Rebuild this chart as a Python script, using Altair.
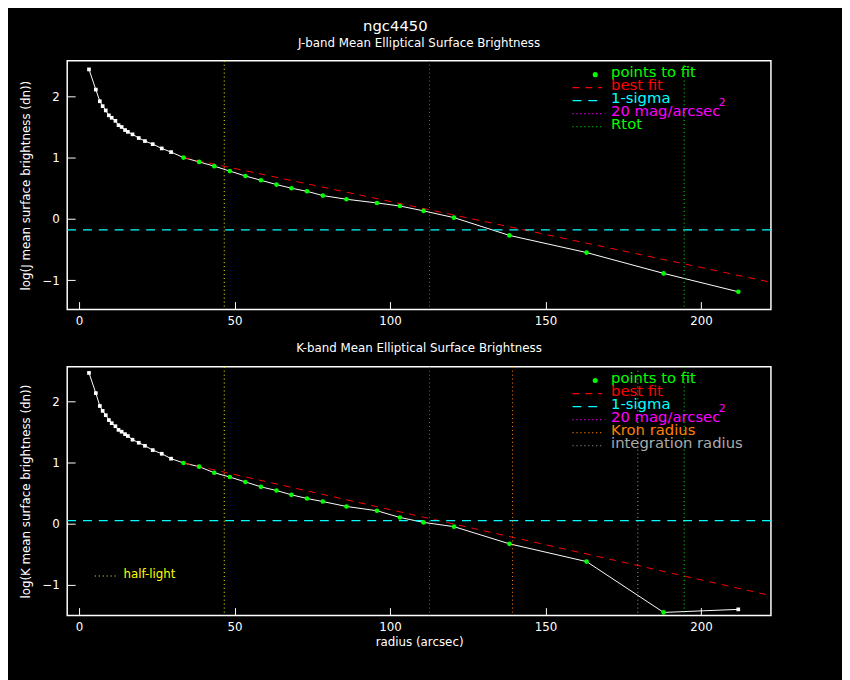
import altair as alt
import pandas as pd

FONT = "DejaVu Sans"

# radius (arcsec), shared by both bands
RADIUS = [3.2, 5.4, 6.7, 7.6, 8.6, 9.6, 10.5, 11.7, 12.7, 13.7, 14.8, 15.7, 17.2, 19.2,
          21.2, 23.7, 26.6, 29.6, 33.6, 38.6, 43.5, 48.5, 53.5, 58.5, 63.5, 68.3, 73.3,
          78.4, 86.0, 95.8, 103.2, 110.8, 120.6, 138.4, 163.2, 188.0, 212.0]

J_LOG = [2.44, 2.11, 1.92, 1.84, 1.77, 1.69, 1.65, 1.60, 1.53, 1.50, 1.45, 1.42, 1.38, 1.32,
         1.27, 1.22, 1.15, 1.09, 1.00, 0.93, 0.86, 0.78, 0.70, 0.63, 0.56, 0.50, 0.45,
         0.38, 0.32, 0.26, 0.21, 0.13, 0.02, -0.27, -0.55, -0.89, -1.19]
K_LOG = [2.46, 2.13, 1.92, 1.84, 1.77, 1.69, 1.64, 1.59, 1.53, 1.50, 1.46, 1.43, 1.37, 1.32,
         1.27, 1.20, 1.14, 1.06, 0.99, 0.93, 0.83, 0.76, 0.68, 0.60, 0.54, 0.47, 0.41,
         0.36, 0.28, 0.21, 0.10, 0.02, -0.05, -0.33, -0.62, -1.45, -1.40]

# which points were used in the fit
J_FIT = [False] * 18 + [True] * 19
K_FIT = [False] * 18 + [True] * 18 + [False]

# best-fit lines (endpoints)
J_FIT_R = [33.6, 222.0]
J_FIT_Y = [1.00, -1.03]
K_FIT_R = [33.6, 222.0]
K_FIT_Y = [0.99, -1.17]

J_SIGMA = -0.18
K_SIGMA = 0.05

J_VLINES = [46.7, 112.7, 194.6]
J_VCOLORS = ["#ffff00", "#ff00ff", "#00ff00"]
K_VLINES = [46.7, 112.7, 139.4, 179.7, 194.6]
K_VCOLORS = ["#ffff00", "#ff00ff", "#ff8000", "#aaaaaa", "#00ff00"]

J_LEGEND = ["best fit", "1-sigma", "20 mag/arcsec", "Rtot"]
J_LEGEND_COLORS = ["#ff0000", "#00ffff", "#ff00ff", "#00ff00"]
K_LEGEND = ["best fit", "1-sigma", "20 mag/arcsec", "Kron radius", "integration radius"]
K_LEGEND_COLORS = ["#ff0000", "#00ffff", "#ff00ff", "#ff8000", "#aaaaaa"]

X_TICKS = [0, 50, 100, 150, 200]
Y_TICKS = [-1, 0, 1, 2]

X_DOMAIN = [-3.8, 222.5]
W, H = 713, 252


def panel(r, y, fit, fit_r, fit_y, sigma, vlines, vcolors, leg, leg_colors,
          ydomain, title, ytitle, xtitle, halflight):
    xs = alt.Scale(domain=X_DOMAIN, nice=False, zero=False)
    ys = alt.Scale(domain=ydomain, nice=False, zero=False)
    df = pd.DataFrame({"r": r, "y": y, "fit": fit})

    # axes pulled inside the frame so their ticks point inwards
    base_x = alt.X("r:Q", scale=xs,
                   axis=alt.Axis(values=X_TICKS, title=xtitle, ticks=True, tickSize=8,
                                 tickColor="white", offset=-8, domain=False,
                                 labelPadding=6, format="d"))
    base_y = alt.Y("y:Q", scale=ys,
                   axis=alt.Axis(values=Y_TICKS, title=ytitle, ticks=True, tickSize=8,
                                 tickColor="white", offset=-8, domain=False,
                                 labelPadding=8, titlePadding=10, format="d"))

    line = alt.Chart(df).mark_line(color="white", strokeWidth=1).encode(x=base_x, y=base_y)
    white_pts = alt.Chart(df[~df["fit"]]).mark_square(color="white", size=14, opacity=1).encode(
        x="r:Q", y="y:Q")
    green_pts = alt.Chart(df[df["fit"]]).mark_circle(color="#00ff00", size=22, opacity=1).encode(
        x="r:Q", y="y:Q")

    fit_df = pd.DataFrame({"r": fit_r, "y": fit_y})
    fit_line = alt.Chart(fit_df).mark_line(color="#ff0000", strokeDash=[7, 6], strokeWidth=1).encode(
        x="r:Q", y="y:Q")

    sig = alt.Chart(pd.DataFrame({"y": [sigma]})).mark_rule(
        color="#00ffff", strokeDash=[9, 7], strokeWidth=1.2).encode(y="y:Q")

    vdf = pd.DataFrame({"r": vlines, "c": vcolors})
    vl = alt.Chart(vdf).mark_rule(strokeDash=[1, 3], strokeWidth=1).encode(
        x="r:Q", color=alt.Color("c:N", scale=None))

    # legend
    lx0, lx1, ltx = 512, 542, 551
    ly0, dy = 11, 13.2
    one = pd.DataFrame({"t": ["points to fit"]})
    legend_layers = [
        alt.Chart(one).mark_circle(color="#00ff00", size=26, opacity=1).encode(
            x=alt.value(535), y=alt.value(ly0 + 3)),
        alt.Chart(one).mark_text(color="#00ff00", align="left", baseline="middle",
                                 font=FONT, fontSize=15).encode(
            x=alt.value(ltx), y=alt.value(ly0), text="t:N"),
    ]
    dashes = [[7, 6], [9, 7], [1, 3], [1, 3], [1, 3]]
    for i, (t, c) in enumerate(zip(leg, leg_colors)):
        yy = ly0 + dy * (i + 1)
        d = pd.DataFrame({"t": [t]})
        legend_layers.append(
            alt.Chart(d).mark_rule(color=c, strokeDash=dashes[i], strokeWidth=1.2).encode(
                x=alt.value(lx0), x2=alt.value(lx1), y=alt.value(yy + 3), y2=alt.value(yy + 3)))
        legend_layers.append(
            alt.Chart(d).mark_text(color=c, align="left", baseline="middle",
                                   font=FONT, fontSize=15).encode(
                x=alt.value(ltx), y=alt.value(yy), text="t:N"))
        if t == "20 mag/arcsec":
            legend_layers.append(
                alt.Chart(pd.DataFrame({"t": ["2"]})).mark_text(
                    color=c, align="left", baseline="middle", font=FONT, fontSize=11).encode(
                    x=alt.value(ltx + 109), y=alt.value(yy - 8), text="t:N"))
    if halflight:
        d = pd.DataFrame({"t": ["half-light"]})
        legend_layers.append(
            alt.Chart(d).mark_rule(color="#ffff00", strokeDash=[1, 3], strokeWidth=1.2).encode(
                x=alt.value(28), x2=alt.value(50), y=alt.value(212), y2=alt.value(212)))
        legend_layers.append(
            alt.Chart(d).mark_text(color="#ffff00", align="left", baseline="middle",
                                   font=FONT, fontSize=12).encode(
                x=alt.value(57), y=alt.value(210), text="t:N"))

    return alt.layer(line, fit_line, sig, vl, white_pts, green_pts, *legend_layers).properties(
        width=W, height=H,
        title=alt.TitleParams(title, color="white", font=FONT, fontSize=12, fontWeight="normal", offset=11),
    )


top = panel(RADIUS, J_LOG, J_FIT, J_FIT_R, J_FIT_Y, J_SIGMA, J_VLINES, J_VCOLORS,
            J_LEGEND, J_LEGEND_COLORS, [-1.48, 2.58],
            "J-band Mean Elliptical Surface Brightness", "log(J mean surface brightness (dn))", None, False)
bottom = panel(RADIUS, K_LOG, K_FIT, K_FIT_R, K_FIT_Y, K_SIGMA, K_VLINES, K_VCOLORS,
               K_LEGEND, K_LEGEND_COLORS, [-1.5, 2.56],
               "K-band Mean Elliptical Surface Brightness", "log(K mean surface brightness (dn))",
               "radius (arcsec)", True)

chart = (
    alt.vconcat(top, bottom, spacing=14)
    .properties(
        title=alt.TitleParams("ngc4450", color="white", font=FONT, fontSize=15, fontWeight="normal",
                              anchor="middle", offset=2),
        background="black",
        padding={"left": 10, "top": 6, "right": 70, "bottom": 40},
    )
    .configure_view(stroke="white", strokeWidth=1.5)
    .configure_axis(labelColor="white", titleColor="white", labelFont=FONT, titleFont=FONT,
                    labelFontSize=12, titleFontSize=12, titleFontWeight="normal", grid=False)
)

chart.save("out.html", embed_options={"renderer": "svg", "actions": False})
